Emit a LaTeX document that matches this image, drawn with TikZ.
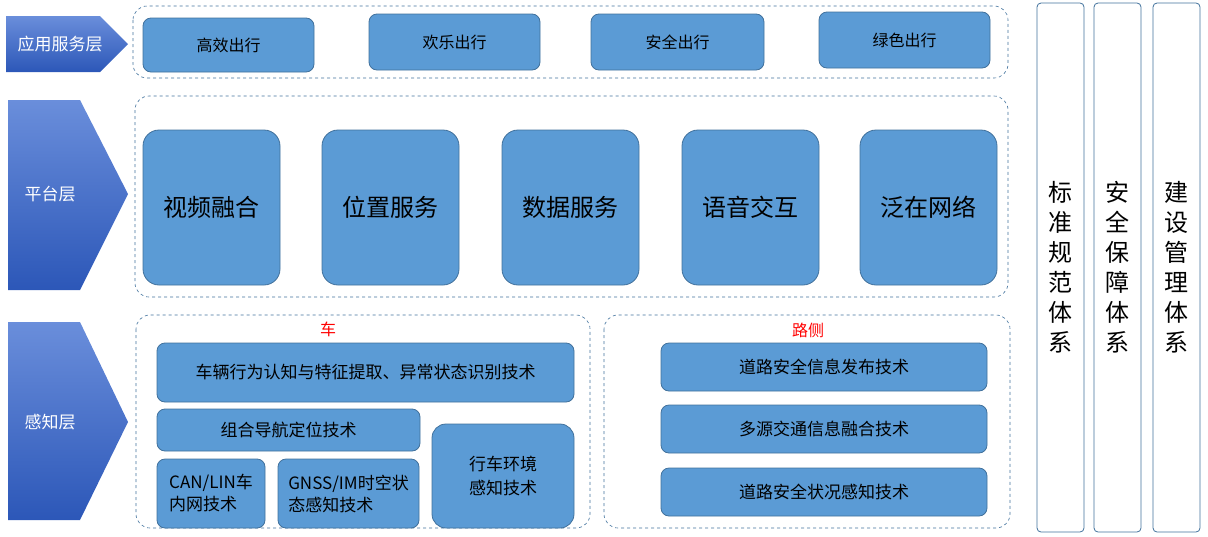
\documentclass[tikz,border=0pt]{standalone}
\usepackage{fontspec}
\setmainfont{Noto Sans CJK SC}
\definecolor{boxfill}{HTML}{5B9BD5}
\definecolor{boxline}{HTML}{41719C}
\definecolor{chevtop}{HTML}{6A8EDB}
\definecolor{chevbot}{HTML}{2C57B8}
\begin{document}
\begin{tikzpicture}[x=1pt,y=-1pt]
  \tikzset{blk/.style={draw=boxline, fill=boxfill, rounded corners=8pt, line width=0.8pt}}
  \tikzset{grp/.style={draw=boxline, dashed, rounded corners=14pt, line width=0.6pt}}
  \tikzset{side/.style={draw=boxline, rounded corners=4pt, line width=0.8pt}}
  \tikzset{chev/.style={top color=chevtop, bottom color=chevbot, draw=none}}

  \useasboundingbox (0,0) rectangle (1208,536);

  % layer chevrons
  \path[chev] (6,16) -- (100,16) -- (128,44) -- (100,72) -- (6,72) -- cycle;
  \node[white, font=\fontsize{17}{20}\selectfont] (lapp) at (60,44) {应用服务层};
  \path[chev] (8,100) -- (80,100) -- (128,194) -- (80,290) -- (8,290) -- cycle;
  \node[white, font=\fontsize{17}{20}\selectfont] (lplat) at (50,194) {平台层};
  \path[chev] (8,322) -- (80,322) -- (128,422) -- (80,520) -- (8,520) -- cycle;
  \node[white, font=\fontsize{17}{20}\selectfont] (lsens) at (50,422) {感知层};

  % application layer
  \draw[grp] (133,6) rectangle (1008,78);
  \draw[blk] (143,18) rectangle (314,72) node[midway, font=\fontsize{16}{19}\selectfont] (a1) {高效出行};
  \draw[blk] (369,14) rectangle (540,70) node[midway, font=\fontsize{16}{19}\selectfont] (a2) {欢乐出行};
  \draw[blk] (591,14) rectangle (764,70) node[midway, font=\fontsize{16}{19}\selectfont] (a3) {安全出行};
  \draw[blk] (819,12) rectangle (990,68) node[midway, font=\fontsize{16}{19}\selectfont] (a4) {绿色出行};

  % platform layer
  \draw[grp] (135,96) rectangle (1008,297);
  \foreach \x/\t [count=\i] in {143/视频融合, 322/位置服务, 502/数据服务, 682/语音交互, 860/泛在网络}{
    \draw[blk, rounded corners=16pt] (\x,130) rectangle ++(137,155)
      node[midway, font=\fontsize{24}{28}\selectfont] (p\i) {\t};
  }

  % sensing layer: vehicle
  \draw[grp] (136,315) rectangle (590,528);
  \node[red, font=\fontsize{16}{19}\selectfont] (car) at (328,329) {车};
  \draw[blk] (157,343) rectangle (574,402) node[midway, font=\fontsize{17}{20}\selectfont] (c1) {车辆行为认知与特征提取、异常状态识别技术};
  \draw[blk] (157,409) rectangle (420,451) node[midway, font=\fontsize{17}{20}\selectfont] (c2) {组合导航定位技术};
  \draw[blk] (157,459) rectangle (265,528) node[midway, align=left, font=\fontsize{17}{22}\selectfont] (c3) {CAN/LIN车\\内网技术};
  \draw[blk] (278,459) rectangle (419,528) node[midway, align=left, font=\fontsize{17}{22}\selectfont] (c4) {GNSS/IM时空状\\态感知技术};
  \draw[blk, rounded corners=14pt] (432,424) rectangle (574,528) node[midway, align=left, font=\fontsize{17}{24}\selectfont] (c5) {行车环境\\感知技术};

  % sensing layer: roadside
  \draw[grp] (604,315) rectangle (1010,528);
  \node[red, font=\fontsize{16}{19}\selectfont] (road) at (808,330) {路侧};
  \foreach \y/\t [count=\i] in {343/道路安全信息发布技术, 405/多源交通信息融合技术, 468/道路安全状况感知技术}{
    \draw[blk] (661,\y) rectangle ++(326,48)
      node[midway, font=\fontsize{17}{20}\selectfont] (r\i) {\t};
  }

  % side columns
  \foreach \x/\t [count=\i] in {1037/标\\准\\规\\范\\体\\系, 1094/安\\全\\保\\障\\体\\系, 1153/建\\设\\管\\理\\体\\系}{
    \draw[side] (\x,3) rectangle ++(47,529)
      node[midway, align=center, font=\fontsize{24}{30}\selectfont] (s\i) {\t};
  }
\end{tikzpicture}
\end{document}
